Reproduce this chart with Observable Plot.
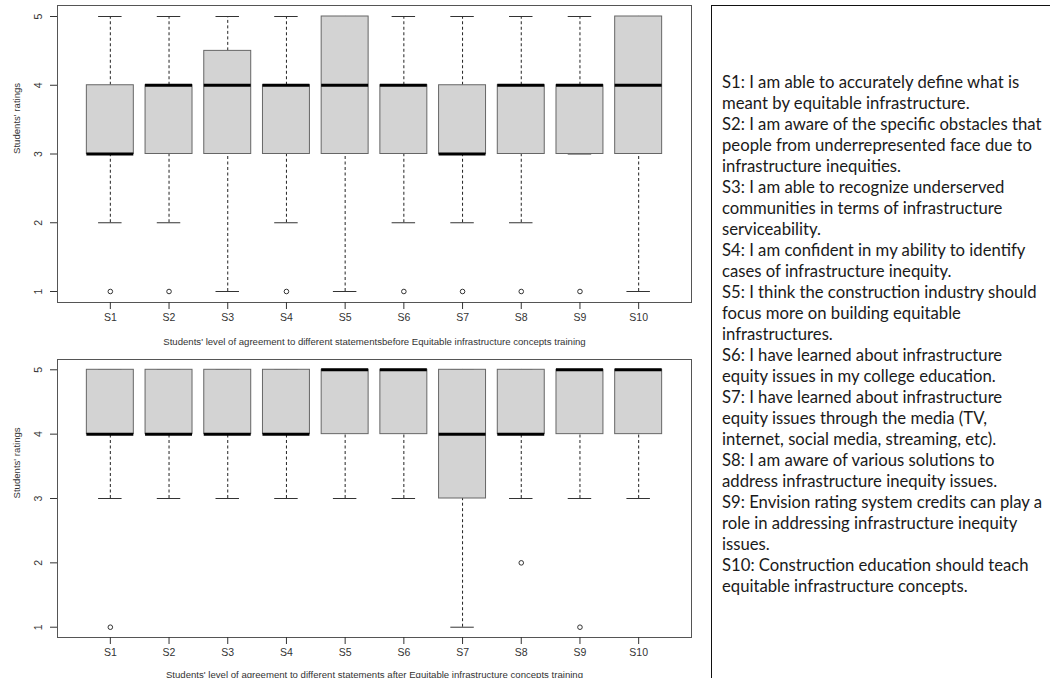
<!DOCTYPE html>
<html><head><meta charset="utf-8">
<script src="https://cdn.jsdelivr.net/npm/d3@7"></script>
<script src="https://cdn.jsdelivr.net/npm/@observablehq/plot@0.6"></script>
<style>
html,body{margin:0;padding:0;background:#fff;overflow:hidden;width:1050px;height:678px}
#top{position:absolute;left:0;top:0}
#bottom{position:absolute;left:0;top:350px}
#box{position:absolute;left:711px;top:5px;width:400px;height:800px;border:1.5px solid #111;box-sizing:border-box}
#legend{position:absolute;left:722px;top:72px;font-family:Lato,"Open Sans",sans-serif;font-size:16.7px;line-height:21px;white-space:pre;color:#1a1a1a}
</style>
</head><body>
<div id="top"></div>
<div id="bottom"></div>
<div id="box"></div>
<div id="legend"></div>
<script>
const statements = ["S1","S2","S3","S4","S5","S6","S7","S8","S9","S10"];
const yTicks = [1,2,3,4,5];
const yTitle = "Students' ratings";
const beforeTitle = "Students' level of agreement to different statementsbefore Equitable infrastructure concepts training";
const afterTitle = "Students' level of agreement to different statements after Equitable infrastructure concepts training";

const beforeLow      = [2,2,1,2,1,2,2,2,3,1];
const beforeQ1       = [3,3,3,3,3,3,3,3,3,3];
const beforeMedian   = [3,4,4,4,4,4,3,4,4,4];
const beforeQ3       = [4,4,4.5,4,5,4,4,4,4,5];
const beforeHigh     = [5,5,5,5,5,5,5,5,5,5];
const beforeOutliers = [[1],[1],[],[1],[],[1],[1],[1],[1],[]];

const afterLow      = [3,3,3,3,3,3,1,3,3,3];
const afterQ1       = [4,4,4,4,4,4,3,4,4,4];
const afterMedian   = [4,4,4,4,5,5,4,4,5,5];
const afterQ3       = [5,5,5,5,5,5,5,5,5,5];
const afterHigh     = [5,5,5,5,5,5,5,5,5,5];
const afterOutliers = [[1],[],[],[],[],[],[],[2],[1],[]];

const legendLines = [
 "S1: I am able to accurately define what is",
 "meant by equitable infrastructure.",
 "S2: I am aware of the specific obstacles that",
 "people from underrepresented face due to",
 "infrastructure inequities.",
 "S3: I am able to recognize underserved",
 "communities in terms of infrastructure",
 "serviceability.",
 "S4: I am confident in my ability to identify",
 "cases of infrastructure inequity.",
 "S5: I think the construction industry should",
 "focus more on building equitable",
 "infrastructures.",
 "S6: I have learned about infrastructure",
 "equity issues in my college education.",
 "S7: I have learned about infrastructure",
 "equity issues through the media (TV,",
 "internet, social media, streaming, etc).",
 "S8: I am aware of various solutions to",
 "address infrastructure inequity issues.",
 "S9: Envision rating system credits can play a",
 "role in addressing infrastructure inequity",
 "issues.",
 "S10: Construction education should teach",
 "equitable infrastructure concepts."
];

function panel({low, q1, med, q3, high, outliers, title, height, marginTop, marginBottom, titleDy}) {
  const rows = statements.map((s, i) => ({i: i + 1, s, low: low[i], q1: q1[i], med: med[i], q3: q3[i], high: high[i]}));
  const outs = statements.flatMap((s, i) => outliers[i].map(v => ({i: i + 1, v})));
  const dash = {stroke: "#222", strokeWidth: 1, strokeDasharray: "3,2.5"};
  return Plot.plot({
    width: 700, height, marginLeft: 57, marginRight: 9, marginTop, marginBottom,
    x: {type: "linear", domain: [0.1, 10.9], label: null},
    y: {domain: [0.84, 5.16], label: null},
    style: {fontFamily: "'Liberation Sans', Arial, sans-serif", fontSize: "10.5px", color: "#333", background: "transparent"},
    marks: [
      Plot.ruleX(rows, {x: "i", y1: "low", y2: "q1", ...dash}),
      Plot.ruleX(rows, {x: "i", y1: "q3", y2: "high", ...dash}),
      Plot.ruleY(rows, {y: "low", x1: d => d.i - 0.2, x2: d => d.i + 0.2, stroke: "#333"}),
      Plot.ruleY(rows, {y: "high", x1: d => d.i - 0.2, x2: d => d.i + 0.2, stroke: "#333"}),
      Plot.rect(rows, {x1: d => d.i - 0.4, x2: d => d.i + 0.4, y1: "q1", y2: "q3", fill: "#d3d3d3", stroke: "#666", strokeWidth: 1}),
      Plot.ruleY(rows, {y: "med", x1: d => d.i - 0.4, x2: d => d.i + 0.4, stroke: "#000", strokeWidth: 3}),
      Plot.dot(outs, {x: "i", y: "v", r: 2.3, stroke: "#333", fill: "none", strokeWidth: 1}),
      Plot.frame({stroke: "#555"}),
      Plot.axisX({ticks: statements.map((s, i) => i + 1), tickFormat: d => statements[d - 1], tickSize: 7, tickPadding: 4, label: null, stroke: "#333"}),
      Plot.axisY({ticks: yTicks, tickSize: 7, tickFormat: () => "", label: null, stroke: "#333"}),
      Plot.text(yTicks, {y: d => d, text: d => String(d), frameAnchor: "left", dx: -19, rotate: -90, textAnchor: "middle", lineAnchor: "middle", fontSize: 10.5, fill: "#333"}),
      Plot.text([title], {text: d => d, frameAnchor: "bottom", dy: titleDy, fontSize: 9.6, fill: "#333"}),
      Plot.text([yTitle], {text: d => d, frameAnchor: "left", dx: -41, rotate: -90, fontSize: 9.6, fill: "#333"})
    ]
  });
}

document.getElementById("top").append(panel({
  low: beforeLow, q1: beforeQ1, med: beforeMedian, q3: beforeQ3, high: beforeHigh, outliers: beforeOutliers,
  title: beforeTitle, height: 350, marginTop: 5, marginBottom: 48, titleDy: 42
}));
document.getElementById("bottom").append(panel({
  low: afterLow, q1: afterQ1, med: afterMedian, q3: afterQ3, high: afterHigh, outliers: afterOutliers,
  title: afterTitle, height: 340, marginTop: 9, marginBottom: 53, titleDy: 40
}));
document.getElementById("legend").textContent = legendLines.join("\n");
</script>
</body></html>
